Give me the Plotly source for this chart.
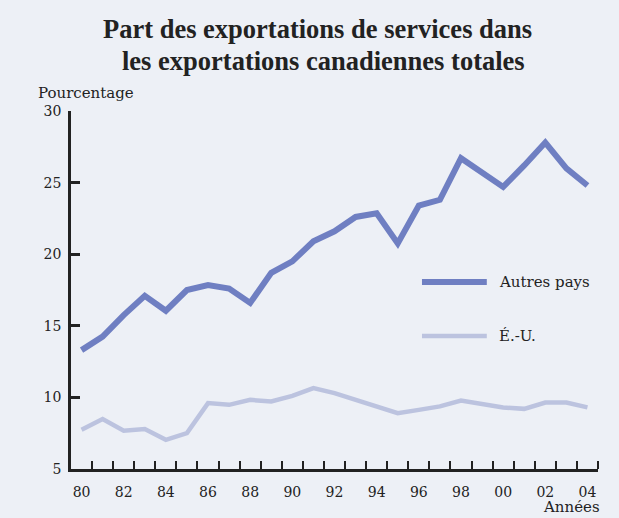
import plotly.graph_objects as go

years = list(range(1980, 2005))
autres_pays = [13.3, 14.25, 15.75, 17.1, 16.05, 17.5, 17.85, 17.6, 16.6, 18.7,
               19.5, 20.9, 21.6, 22.6, 22.85, 20.75, 23.4, 23.8, 26.7, 25.75,
               24.7, 26.2, 27.8, 26.0, 24.8]
etats_unis = [7.74, 8.49, 7.67, 7.79, 7.04, 7.51, 9.6, 9.48, 9.83, 9.71,
              10.1, 10.65, 10.3, 9.83, 9.37, 8.9, 9.13, 9.37, 9.78, 9.55,
              9.3, 9.2, 9.64, 9.64, 9.3]
x_tick_vals = list(range(1980, 2005, 2))
x_tick_text = ["80", "82", "84", "86", "88", "90", "92", "94", "96", "98", "00", "02", "04"]
y_tick_vals = [5, 10, 15, 20, 25, 30]
series_names = ["Autres pays", "É.-U."]
title_lines = ["Part des exportations de services dans", "les exportations canadiennes totales"]

c_autres = "#6f7fc2"
c_eu = "#bcc3df"
font = "DejaVu Serif"
title_font = "Liberation Serif"
ink = "#222"
bg = "#edf0f6"

fig = go.Figure()
fig.add_trace(go.Scatter(x=years, y=autres_pays, mode="lines", name=series_names[0],
                         line=dict(color=c_autres, width=6), showlegend=False))
fig.add_trace(go.Scatter(x=years, y=etats_unis, mode="lines", name=series_names[1],
                         line=dict(color=c_eu, width=4.5), showlegend=False))

# legend drawn as samples + text
for name, col, w, yp in [(series_names[0], c_autres, 6, 0.522), (series_names[1], c_eu, 4.5, 0.3715)]:
    fig.add_shape(type="line", xref="paper", yref="paper", x0=0.666, x1=0.789, y0=yp, y1=yp,
                  line=dict(color=col, width=w))
    fig.add_annotation(xref="paper", yref="paper", x=0.808, y=yp, text=name, showarrow=False,
                       xanchor="left", yanchor="middle", font=dict(family=font, size=15, color=ink))

fig.add_annotation(xref="paper", yref="paper", x=-0.066, y=1.05, text="Pourcentage", showarrow=False,
                   xanchor="left", yanchor="middle", font=dict(family=font, size=15, color=ink))
fig.add_annotation(xref="paper", yref="paper", x=1.008, y=-0.106, text="Années", showarrow=False,
                   xanchor="right", yanchor="middle", font=dict(family=font, size=15, color=ink))
for line_text, yp, xc in [(title_lines[0], 1.229, 309), (title_lines[1], 1.1397, 315)]:
    fig.add_annotation(xref="paper", yref="paper", x=(xc - 63) / 527, y=yp,
                       text=f"<b>{line_text}</b>",
                       showarrow=False, xanchor="center", yanchor="middle",
                       font=dict(family=title_font, size=26.5, color=ink))

fig.update_layout(
    width=611, height=510,
    margin=dict(l=63, r=21, t=103, b=49),
    paper_bgcolor=bg, plot_bgcolor=bg,
    xaxis=dict(range=[1979.5, 2004.5], tickvals=x_tick_vals, ticktext=x_tick_text,
               ticks="", showgrid=False, zeroline=False,
               showline=True, linecolor=ink, linewidth=2.5,
               tickfont=dict(family=font, size=14, color=ink), ticklabelstandoff=8,
               minor=dict(tickvals=[y + 0.5 for y in years], ticks="inside", ticklen=8,
                          tickwidth=2, tickcolor=ink, showgrid=False)),
    yaxis=dict(range=[5, 30], tickvals=y_tick_vals, ticks="inside", ticklen=9, tickwidth=2.5,
               tickcolor=ink, showgrid=False, zeroline=False,
               showline=True, linecolor=ink, linewidth=2.5,
               tickfont=dict(family=font, size=14, color=ink), ticklabelstandoff=4),
)

fig.write_html("out.html", post_script=f"document.body.style.backgroundColor='{bg}';")
